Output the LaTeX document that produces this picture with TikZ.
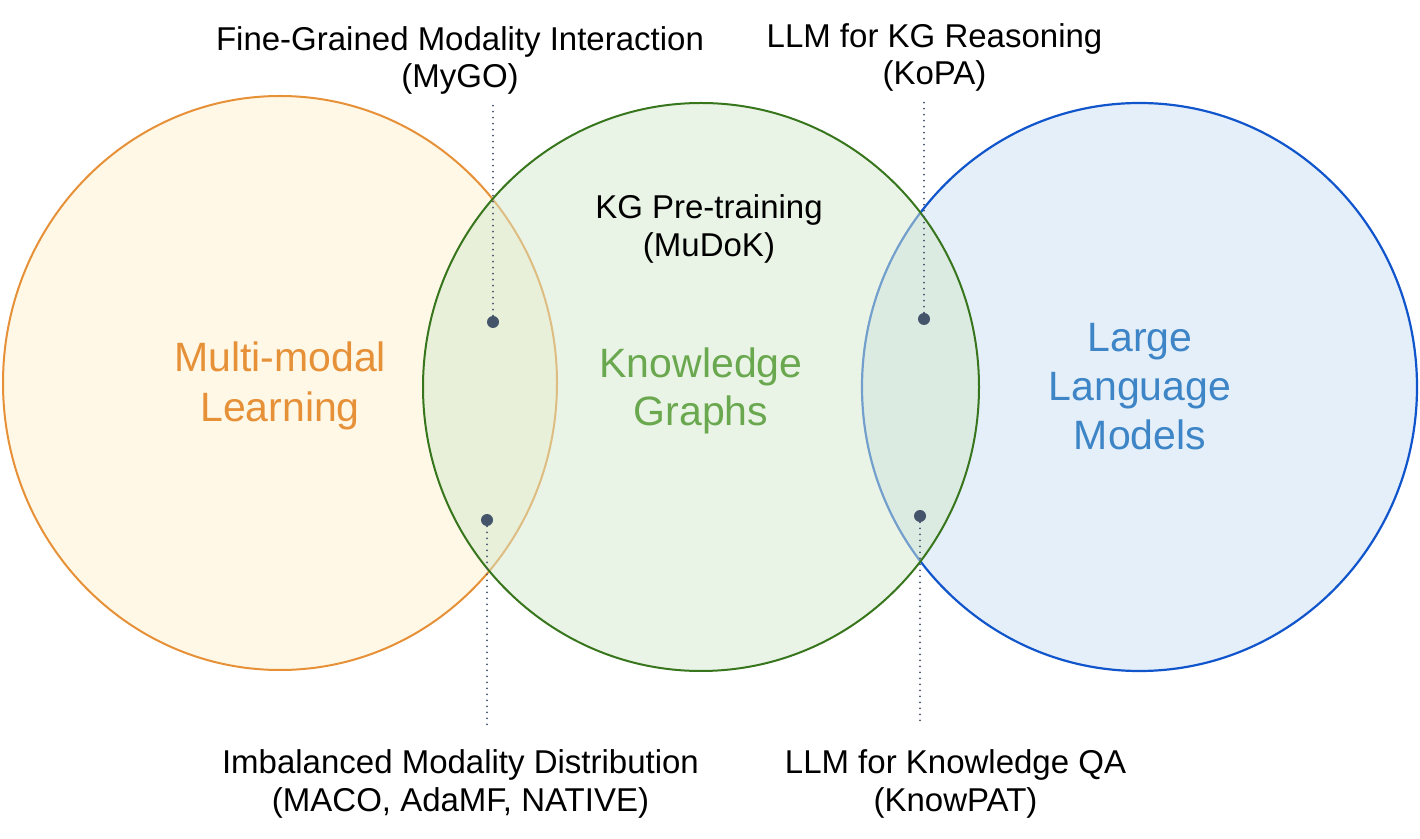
\documentclass[tikz,border=0pt]{standalone}
\usepackage{fontspec}
\setmainfont{Liberation Sans}
\definecolor{orStroke}{HTML}{E69138}
\definecolor{orFill}{HTML}{FFF8E6}
\definecolor{orText}{HTML}{E69138}
\definecolor{grStroke}{HTML}{38761D}
\definecolor{grFill}{RGB}{213,233,205}
\definecolor{grText}{HTML}{6AA84F}
\definecolor{blStroke}{HTML}{1155CC}
\definecolor{blFill}{HTML}{E4EFF9}
\definecolor{blText}{HTML}{3D85C6}
\definecolor{dotCol}{HTML}{44546A}
\tikzset{
  bigtxt/.style={font=\fontsize{20.5pt}{24.5pt}\selectfont, anchor=base, inner sep=0pt},
  smalltxt/.style={font=\fontsize{16.5pt}{18.5pt}\selectfont, anchor=base, inner sep=0pt, text=black},
  pin/.style={circle, fill=dotCol, draw=none, minimum size=6pt, inner sep=0pt},
  leader/.style={draw=dotCol, line width=1pt, line cap=round, dash pattern=on 0pt off 3pt},
}
\begin{document}
\begin{tikzpicture}[x=0.5pt, y=-0.5pt]
\useasboundingbox (0,0) rectangle (1420,839);
% circles
\draw[fill=orFill, draw=orStroke, line width=1pt] (280,383) ellipse [x radius=138.5pt, y radius=143.5pt];
\draw[fill=blFill, draw=blStroke, line width=1.1pt] (1139.5,387) ellipse [x radius=138.75pt, y radius=142pt];
\fill[grFill, fill opacity=0.5] (701,387) ellipse [x radius=139pt, y radius=142pt];
\draw[draw=grStroke, line width=1pt] (701,387) ellipse [x radius=139pt, y radius=142pt];
% main labels
\node[bigtxt, text=orText] (ml1) at (280,372) {Multi-modal};
\node[bigtxt, text=orText] (ml2) at (280,422) {Learning};
\node[bigtxt, text=grText] (kg1) at (701,378) {Knowledge};
\node[bigtxt, text=grText] (kg2) at (701,426) {Graphs};
\node[bigtxt, text=blText] (llm1) at (1140,352) {Large};
\node[bigtxt, text=blText] (llm2) at (1140,401) {Language};
\node[bigtxt, text=blText] (llm3) at (1140,450) {Models};
% small labels
\node[smalltxt] (fg1) at (460,51) {Fine-Grained Modality Interaction};
\node[smalltxt] (fg2) at (460,88) {(MyGO)};
\node[smalltxt] (kr1) at (934.5,48) {LLM for KG Reasoning};
\node[smalltxt] (kr2) at (934.5,85) {(KoPA)};
\node[smalltxt] (pt1) at (709,219) {KG Pre-training};
\node[smalltxt] (pt2) at (709,257) {(MuDoK)};
\node[smalltxt] (im1) at (460.5,773) {Imbalanced Modality Distribution};
\node[smalltxt] (im2) at (460.5,811) {(MACO, AdaMF, NATIVE)};
\node[smalltxt] (qa1) at (955.5,773) {LLM for Knowledge QA};
\node[smalltxt] (qa2) at (955.5,811) {(KnowPAT)};
% pins and leaders
\node[pin] (p1) at (493,322) {};
\node[pin] (p2) at (487,520) {};
\node[pin] (p3) at (924,319) {};
\node[pin] (p4) at (920,516) {};
\coordinate (e1) at (493,104);
\coordinate (e2) at (487,727);
\coordinate (e3) at (924,102);
\coordinate (e4) at (920,722);
\draw[leader] (p1) -- (e1);
\draw[leader] (p2) -- (e2);
\draw[leader] (p3) -- (e3);
\draw[leader] (p4) -- (e4);
\end{tikzpicture}
\end{document}
